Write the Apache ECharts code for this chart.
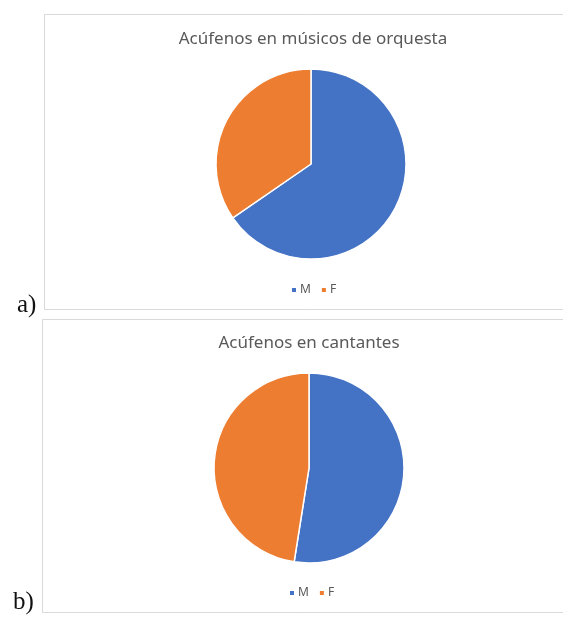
<!DOCTYPE html>
<html>
<head>
<meta charset="utf-8">
<script src="https://cdn.jsdelivr.net/npm/echarts@6/dist/echarts.min.js"></script>
<style>
  html, body { margin: 0; padding: 0; background: #ffffff; }
  #chart { width: 563px; height: 618px; }
</style>
</head>
<body>
<div id="chart"></div>
<script>
// Tinnitus cases by sex
const categories = ['M', 'F'];
const orquestaValues = [17, 9];   // músicos de orquesta
const cantantesValues = [21, 19]; // cantantes
const titles = ['Acúfenos en músicos de orquesta', 'Acúfenos en cantantes'];
const panelLabels = ['a)', 'b)'];

const colors = ['#4472C4', '#ED7D31'];
const font = '"Noto Sans", "Open Sans", sans-serif';
const serif = '25px "Liberation Serif", "DejaVu Serif", serif';

function pieData(values) {
  return categories.map((c, i) => ({ name: c, value: values[i] }));
}

function legendAt(left, top) {
  return {
    top: top,
    left: left,
    orient: 'horizontal',
    icon: 'rect',
    itemWidth: 6,
    itemHeight: 6,
    itemGap: 9,
    data: categories,
    textStyle: { color: '#595959', fontSize: 12, fontFamily: font, padding: [0, 0, 0, -2] },
    selectedMode: false
  };
}

function titleAt(text, left, top) {
  return {
    text: text, left: left, top: top, textAlign: 'center',
    textStyle: { color: '#595959', fontSize: 17, fontWeight: 'normal', fontFamily: font }
  };
}

function pieSeries(center, values) {
  return {
    type: 'pie',
    center: center,
    radius: 95,
    startAngle: 90,
    clockwise: true,
    silent: true,
    label: { show: false },
    labelLine: { show: false },
    itemStyle: { borderColor: '#ffffff', borderWidth: 1.5 },
    data: pieData(values)
  };
}

const chart = echarts.init(document.getElementById('chart'), null, { renderer: 'canvas' });

chart.setOption({
  backgroundColor: '#ffffff',
  animation: false,
  color: colors,
  title: [titleAt(titles[0], 308, 26), titleAt(titles[1], 304, 330)],
  legend: [legendAt(285, 279), legendAt(283, 582)],
  graphic: [
    { type: 'rect', shape: { x: 44.5, y: 14.5, width: 540, height: 295 },
      style: { fill: 'none', stroke: '#d9d9d9', lineWidth: 1 }, silent: true },
    { type: 'rect', shape: { x: 42.5, y: 319.5, width: 540, height: 293 },
      style: { fill: 'none', stroke: '#d9d9d9', lineWidth: 1 }, silent: true },
    { type: 'text', left: 17, top: 293,
      style: { text: panelLabels[0], fill: '#111111', font: serif } },
    { type: 'text', left: 13, top: 590,
      style: { text: panelLabels[1], fill: '#111111', font: serif } }
  ],
  series: [
    pieSeries([311, 164], orquestaValues),
    pieSeries([309, 468], cantantesValues)
  ]
});
</script>
</body>
</html>
